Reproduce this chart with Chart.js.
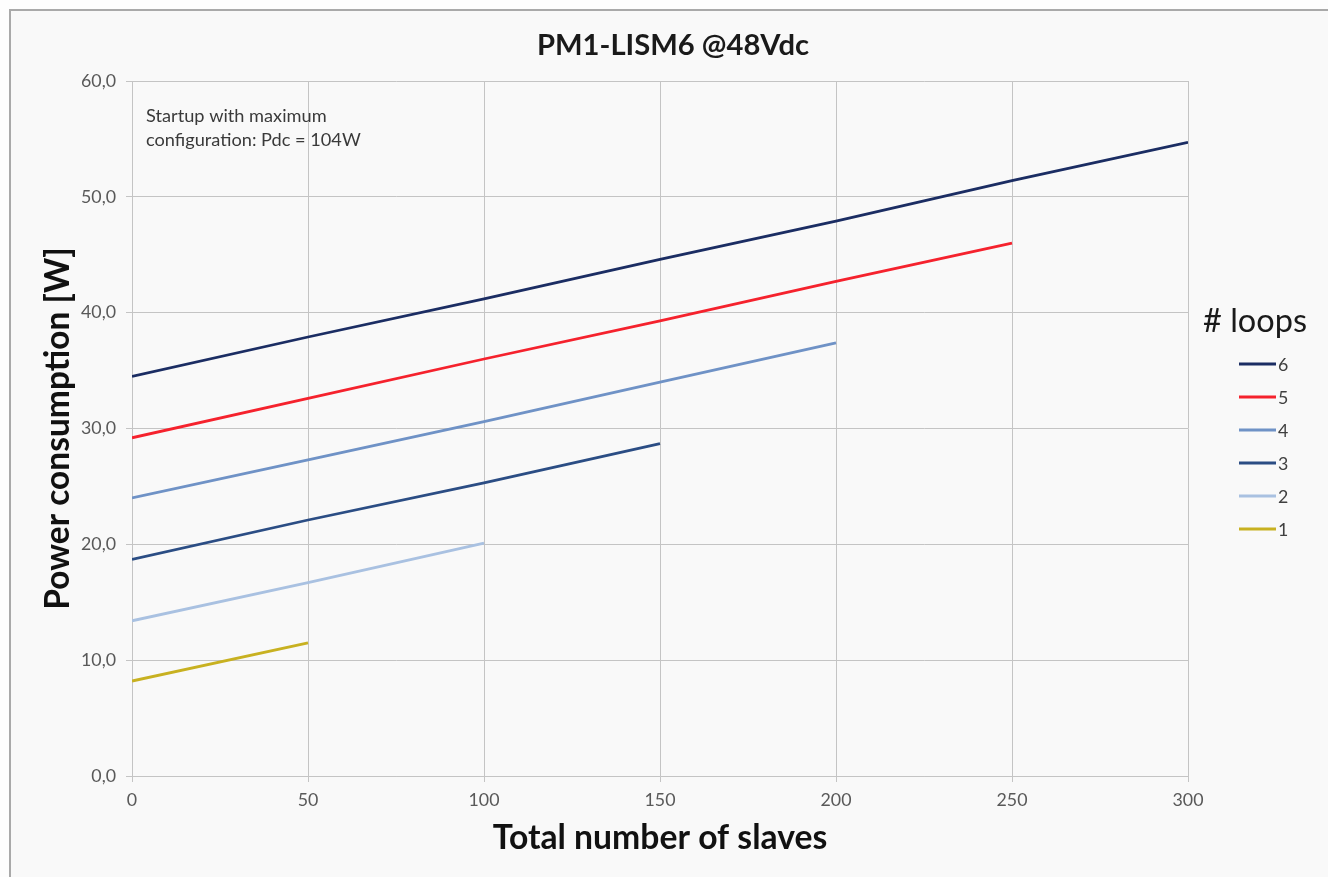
<!DOCTYPE html>
<html><head><meta charset="utf-8">
<script src="https://cdn.jsdelivr.net/npm/chart.js@4.4.1/dist/chart.umd.min.js"></script>
<style>
html,body{margin:0;padding:0;background:#fdfdfd;overflow:hidden;width:1328px;height:877px;}
#frame{position:absolute;left:9px;top:9px;width:1400px;height:1000px;border:2px solid #a9a9a9;background:#f9f9f9;}
#wrap{position:absolute;left:0;top:0;width:1328px;height:877px;}
</style></head><body>
<div id="frame"></div>
<div id="wrap"><canvas id="c" width="1328" height="877"></canvas></div>
<script>
// ---- data ----
const chartTitle = 'PM1-LISM6 @48Vdc';
const xAxisTitle = 'Total number of slaves';
const yAxisTitle = 'Power consumption [W]';
const legendTitle = '# loops';
const noteLines = ['Startup with maximum', 'configuration: Pdc = 104W'];
const seriesNames = ['6', '5', '4', '3', '2', '1'];
const slaves = [0, 50, 100, 150, 200, 250, 300];
const loops6 = [34.5, 37.9, 41.2, 44.6, 47.9, 51.4, 54.7];
const loops5 = [29.2, 32.6, 36.0, 39.3, 42.7, 46.0];
const loops4 = [24.0, 27.3, 30.6, 34.0, 37.4];
const loops3 = [18.7, 22.1, 25.3, 28.7];
const loops2 = [13.4, 16.7, 20.1];
const loops1 = [8.2, 11.5];
const xTickValues = [0, 50, 100, 150, 200, 250, 300];
const yTickValues = [0, 10, 20, 30, 40, 50, 60];

// ---- styles ----
const FAMILY = 'Lato, "Open Sans", sans-serif';
const seriesColors = ['#1b2d63', '#f5222d', '#6f92c6', '#2b4d84', '#a9c1e1', '#c8b121'];
const gridColor = '#c4c4c4';
const tickColor = '#595959';

const mctx = document.createElement('canvas').getContext('2d');
function fitSize(text, weight, target) {
  mctx.font = weight + ' 100px ' + FAMILY;
  return Math.round(1000 * target / mctx.measureText(text).width) / 10;
}
const titleSize = fitSize(chartTitle, 'bold', 272);
const xTitleSize = fitSize(xAxisTitle, 'bold', 335);
const yTitleSize = fitSize(yAxisTitle, 'bold', 363);
const tickSize = fitSize('60,0', 'normal', 35);
const legTitleSize = fitSize(legendTitle, 'normal', 104);
const noteSize = fitSize(noteLines[1], 'normal', 215);

const allSeries = [loops6, loops5, loops4, loops3, loops2, loops1];
const datasets = allSeries.map((vals, i) => ({
  label: seriesNames[i],
  data: vals.map((v, j) => ({ x: slaves[j], y: v })),
  borderColor: seriesColors[i],
  backgroundColor: seriesColors[i],
  borderWidth: 2.8,
  pointRadius: 0,
  tension: 0,
  fill: false
}));

const LP = 18;           // layout left padding
const PLOT_LEFT = 132, PLOT_RIGHT = 1188, PLOT_TOP = 81, PLOT_BOTTOM = 776;
const tLH = titleSize * 1.2;
const titlePadTop = 46 - tLH / 2;
const titlePadBottom = PLOT_TOP - titlePadTop - tLH;

const extras = {
  id: 'extras',
  afterDraw(chart) {
    const ctx = chart.ctx;
    ctx.save();
    // note text
    ctx.fillStyle = '#3a3a3a';
    ctx.font = 'normal ' + noteSize + 'px ' + FAMILY;
    ctx.textAlign = 'left';
    ctx.textBaseline = 'alphabetic';
    noteLines.forEach((t, i) => ctx.fillText(t, 146, 122 + i * 24));
    // legend
    ctx.fillStyle = '#1a1a1a';
    ctx.font = 'normal ' + legTitleSize + 'px ' + FAMILY;
    ctx.fillText(legendTitle, 1203, 332);
    ctx.font = 'normal ' + tickSize + 'px ' + FAMILY;
    ctx.textBaseline = 'middle';
    chart.data.datasets.forEach((ds, i) => {
      const y = 364 + i * 33;
      ctx.strokeStyle = ds.borderColor;
      ctx.lineWidth = 3;
      ctx.beginPath();
      ctx.moveTo(1239, y);
      ctx.lineTo(1276, y);
      ctx.stroke();
      ctx.fillStyle = '#404040';
      ctx.fillText(ds.label, 1278, y + 1);
    });
    ctx.restore();
  }
};

new Chart(document.getElementById('c'), {
  type: 'line',
  data: { datasets },
  plugins: [extras],
  options: {
    responsive: false,
    animation: false,
    devicePixelRatio: 1,
    layout: { padding: { left: LP, right: 0, top: 0, bottom: 0 } },
    plugins: {
      legend: { display: false },
      tooltip: { enabled: false },
      title: {
        display: true,
        text: chartTitle,
        color: '#1a1a1a',
        font: { family: FAMILY, weight: 'bold', size: titleSize, lineHeight: 1.2 },
        padding: { top: titlePadTop, bottom: titlePadBottom }
      }
    },
    scales: {
      x: {
        type: 'linear',
        min: 0, max: 300,
        afterBuildTicks: s => { s.ticks = xTickValues.map(v => ({ value: v })); },
        afterFit: s => { s.height = 877 - PLOT_BOTTOM; },
        ticks: { color: tickColor, font: { family: FAMILY, size: tickSize }, padding: 8, maxRotation: 0 },
        grid: { color: gridColor, lineWidth: 1, tickLength: 6 },
        border: { color: gridColor, width: 1 },
        title: {
          display: true, text: xAxisTitle, color: '#111',
          font: { family: FAMILY, weight: 'bold', size: xTitleSize, lineHeight: 1.2 },
          padding: { top: 0, bottom: 877 - 838 - xTitleSize * 0.6 }
        }
      },
      y: {
        type: 'linear',
        min: 0, max: 60,
        afterBuildTicks: s => { s.ticks = yTickValues.map(v => ({ value: v })); },
        afterFit: s => { s.width = PLOT_LEFT - LP; },
        ticks: {
          color: tickColor, font: { family: FAMILY, size: tickSize }, padding: 10,
          callback: v => v.toFixed(1).replace('.', ',')
        },
        grid: { color: gridColor, lineWidth: 1, tickLength: 6 },
        border: { color: gridColor, width: 1 },
        title: {
          display: true, text: yAxisTitle, color: '#111',
          font: { family: FAMILY, weight: 'bold', size: yTitleSize, lineHeight: 1.2 },
          padding: { top: 58 - LP - yTitleSize * 0.6, bottom: 0 }
        }
      },
      side: {
        type: 'linear', position: 'right', min: 0, max: 1,
        ticks: { display: false },
        grid: { display: false, drawTicks: false },
        border: { display: false },
        afterFit: s => { s.width = 1328 - PLOT_RIGHT; }
      }
    }
  }
});
</script>
</body></html>
